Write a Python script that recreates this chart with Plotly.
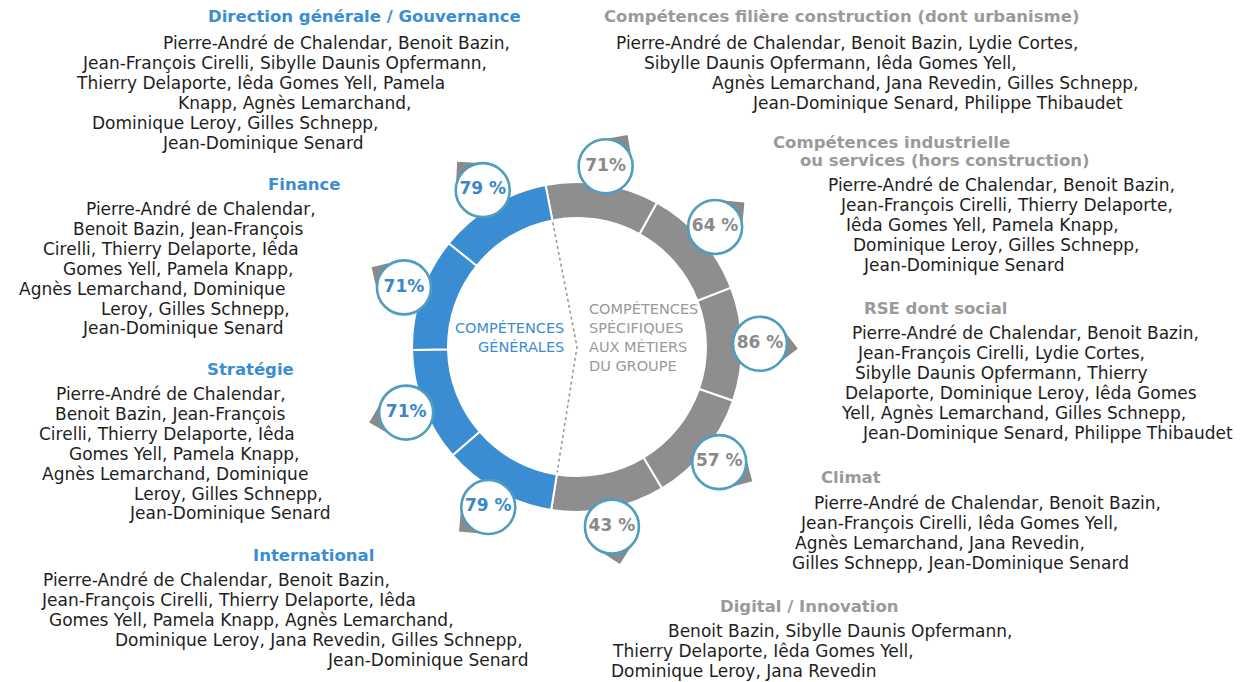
import numpy as np
import plotly.graph_objects as go

# ---- data ----
categories = [
    "Compétences filière construction (dont urbanisme)",
    "Compétences industrielle<br>ou services (hors construction)",
    "RSE dont social",
    "Climat",
    "Digital / Innovation",
    "International",
    "Stratégie",
    "Finance",
    "Direction générale / Gouvernance",
]
groups = ["specifique"] * 5 + ["generale"] * 4
scores = [71, 64, 86, 57, 43, 79, 71, 71, 79]
score_labels = ["71%", "64 %", "86 %", "57 %", "43 %", "79 %", "71%", "71%", "79 %"]
slice_weight = [1, 1, 1, 1, 1, 1, 1, 1, 1]   # every skill gets the same ring slice

members = [
    ["Pierre-André de Chalendar, Benoit Bazin, Lydie Cortes,",
     "Sibylle Daunis Opfermann, Iêda Gomes Yell,",
     "Agnès Lemarchand, Jana Revedin, Gilles Schnepp,",
     "Jean-Dominique Senard, Philippe Thibaudet"],
    ["Pierre-André de Chalendar, Benoit Bazin,",
     "Jean-François Cirelli, Thierry Delaporte,",
     "Iêda Gomes Yell, Pamela Knapp,",
     "Dominique Leroy, Gilles Schnepp,",
     "Jean-Dominique Senard"],
    ["Pierre-André de Chalendar, Benoit Bazin,",
     "Jean-François Cirelli, Lydie Cortes,",
     "Sibylle Daunis Opfermann, Thierry",
     "Delaporte, Dominique Leroy, Iêda Gomes",
     "Yell, Agnès Lemarchand, Gilles Schnepp,",
     "Jean-Dominique Senard, Philippe Thibaudet"],
    ["Pierre-André de Chalendar, Benoit Bazin,",
     "Jean-François Cirelli, Iêda Gomes Yell,",
     "Agnès Lemarchand, Jana Revedin,",
     "Gilles Schnepp, Jean-Dominique Senard"],
    ["Benoit Bazin, Sibylle Daunis Opfermann,",
     "Thierry Delaporte, Iêda Gomes Yell,",
     "Dominique Leroy, Jana Revedin"],
    ["Pierre-André de Chalendar, Benoit Bazin,",
     "Jean-François Cirelli, Thierry Delaporte, Iêda",
     "Gomes Yell, Pamela Knapp, Agnès Lemarchand,",
     "Dominique Leroy, Jana Revedin, Gilles Schnepp,",
     "Jean-Dominique Senard"],
    ["Pierre-André de Chalendar,",
     "Benoit Bazin, Jean-François",
     "Cirelli, Thierry Delaporte, Iêda",
     "Gomes Yell, Pamela Knapp,",
     "Agnès Lemarchand, Dominique",
     "Leroy, Gilles Schnepp,",
     "Jean-Dominique Senard"],
    ["Pierre-André de Chalendar,",
     "Benoit Bazin, Jean-François",
     "Cirelli, Thierry Delaporte, Iêda",
     "Gomes Yell, Pamela Knapp,",
     "Agnès Lemarchand, Dominique",
     "Leroy, Gilles Schnepp,",
     "Jean-Dominique Senard"],
    ["Pierre-André de Chalendar, Benoit Bazin,",
     "Jean-François Cirelli, Sibylle Daunis Opfermann,",
     "Thierry Delaporte, Iêda Gomes Yell, Pamela",
     "Knapp, Agnès Lemarchand,",
     "Dominique Leroy, Gilles Schnepp,",
     "Jean-Dominique Senard"],
]

# ---- layout / style ----
PAGE_W, PAGE_H = 1250, 682
BODY = 8                   # default page margin around the plot div
W, H = PAGE_W - BODY, PAGE_H - BODY
CX, CY = 577, 347          # ring centre in page px
R_OUT, R_IN = 165, 129
R_BUB = 183
BUB = 54
PAD = 232                  # polar radius in px (radial units == px)
START = -11                # first slice starts here (deg, clockwise from top)

BLUE = "#3b8dd3"
GREY = "#8e8e8e"
OUTLINE = "#4f9dbf"
TXT = "#1e1e1e"
FONT = "DejaVu Sans"

# heading line centres and name-line centres for each block (page px)
head_pos = [[(841, 17)], [(891, 142), (945, 160)], [(936, 308)], [(851, 477)], [(809, 606)],
            [(313, 555)], [(250, 369)], [(304, 184)], [(364, 17)]]
line_x = [
    [847, 831, 925, 937],
    [1001, 1006, 982, 996, 963],
    [1025, 1001, 1001, 1021, 1013, 1047],
    [988, 959, 940, 960],
    [840, 763, 744],
    [216, 228, 251, 319, 427],
    [171, 170, 167, 184, 175, 228, 229],
    [201, 188, 171, 178, 152, 195, 182],
    [336, 284, 260, 294, 235, 262],
]
line_y0 = [43, 185, 333, 503, 631, 580, 394, 209, 43]
LEAD = 19.9
pointer_dir = [35, 50, 97, 120, 168, 230, 255, 302, 318]

step = 360 / sum(slice_weight)
edges = START + np.concatenate([[0], np.cumsum(slice_weight)]) * step
mids = (edges[:-1] + edges[1:]) / 2
widths = np.array(slice_weight) * step
ring_col = [BLUE if g == "generale" else GREY for g in groups]
txt_col = ["#3a87c9" if g == "generale" else "#8a8a8a" for g in groups]

fig = go.Figure()

fig.add_trace(go.Barpolar(
    r=[R_OUT - R_IN] * len(categories), base=R_IN, theta=mids, width=widths,
    marker=dict(color=ring_col, line=dict(color="white", width=2)),
    hoverinfo="skip", showlegend=False,
))

# dotted divider between the two families
split = [edges[0], edges[5]]
fig.add_trace(go.Scatterpolar(
    r=[R_IN - 2, 0, R_IN - 2], theta=[split[0], split[0], split[1]],
    mode="lines", line=dict(color="#9a9a9a", width=1.6, dash="dot"),
    hoverinfo="skip", showlegend=False,
))

# pointer corners behind the bubbles
SQ = 27
m = np.radians(mids)
d = np.radians(pointer_dir)
bx, by = R_BUB * np.sin(m), R_BUB * np.cos(m)
off = SQ / np.sqrt(2)
px_, py_ = bx + off * np.sin(d), by + off * np.cos(d)
fig.add_trace(go.Scatterpolar(
    r=np.hypot(px_, py_), theta=np.degrees(np.arctan2(px_, py_)),
    mode="markers",
    marker=dict(symbol="square", size=SQ, color="#8a8a8a",
                angle=np.array(pointer_dir) - 45, line=dict(width=0)),
    hoverinfo="skip", showlegend=False,
))

fig.add_trace(go.Scatterpolar(
    r=[R_BUB] * len(scores), theta=mids, mode="markers+text",
    text=["<b>%s</b>" % s for s in score_labels], textposition="middle center",
    textfont=dict(family=FONT, size=17, color=txt_col),
    marker=dict(size=BUB, color="white", line=dict(color=OUTLINE, width=2.6)),
    customdata=scores, hovertemplate="%{customdata}%<extra></extra>",
    showlegend=False,
))


def ann(x, y, text, color, size, xanchor="center", align="center"):
    fig.add_annotation(x=(x - BODY) / W, y=1 - (y - BODY) / H, xref="paper", yref="paper",
                       text=text, showarrow=False, xanchor=xanchor, yanchor="middle",
                       align=align, font=dict(family=FONT, size=size, color=color))


for i, cat in enumerate(categories):
    hc = BLUE if groups[i] == "generale" else "#9a9a9a"
    for part, (hx, hy) in zip(cat.split("<br>"), head_pos[i]):
        ann(hx, hy, "<b>%s</b>" % part, hc, 16.5)
    for j, line in enumerate(members[i]):
        ann(line_x[i][j], line_y0[i] + j * LEAD, line, TXT, 17)

ann(566, 337, "COMPÉTENCES<br>GÉNÉRALES", BLUE, 14.5, xanchor="right", align="right")
ann(587, 337, "COMPÉTENCES<br>SPÉCIFIQUES<br>AUX MÉTIERS<br>DU GROUPE", "#9a9a9a", 14.5,
    xanchor="left", align="left")

fig.update_layout(
    width=W, height=H, margin=dict(l=0, r=0, t=0, b=0),
    paper_bgcolor="white", plot_bgcolor="white",
    polar=dict(
        domain=dict(x=[(CX - BODY - PAD) / W, (CX - BODY + PAD) / W],
                    y=[(H - (CY - BODY) - PAD) / H, (H - (CY - BODY) + PAD) / H]),
        bgcolor="rgba(0,0,0,0)", hole=0,
        radialaxis=dict(range=[0, PAD], visible=False),
        angularaxis=dict(rotation=90, direction="clockwise", visible=False),
        barmode="overlay",
    ),
)

fig.write_html("out.html")
